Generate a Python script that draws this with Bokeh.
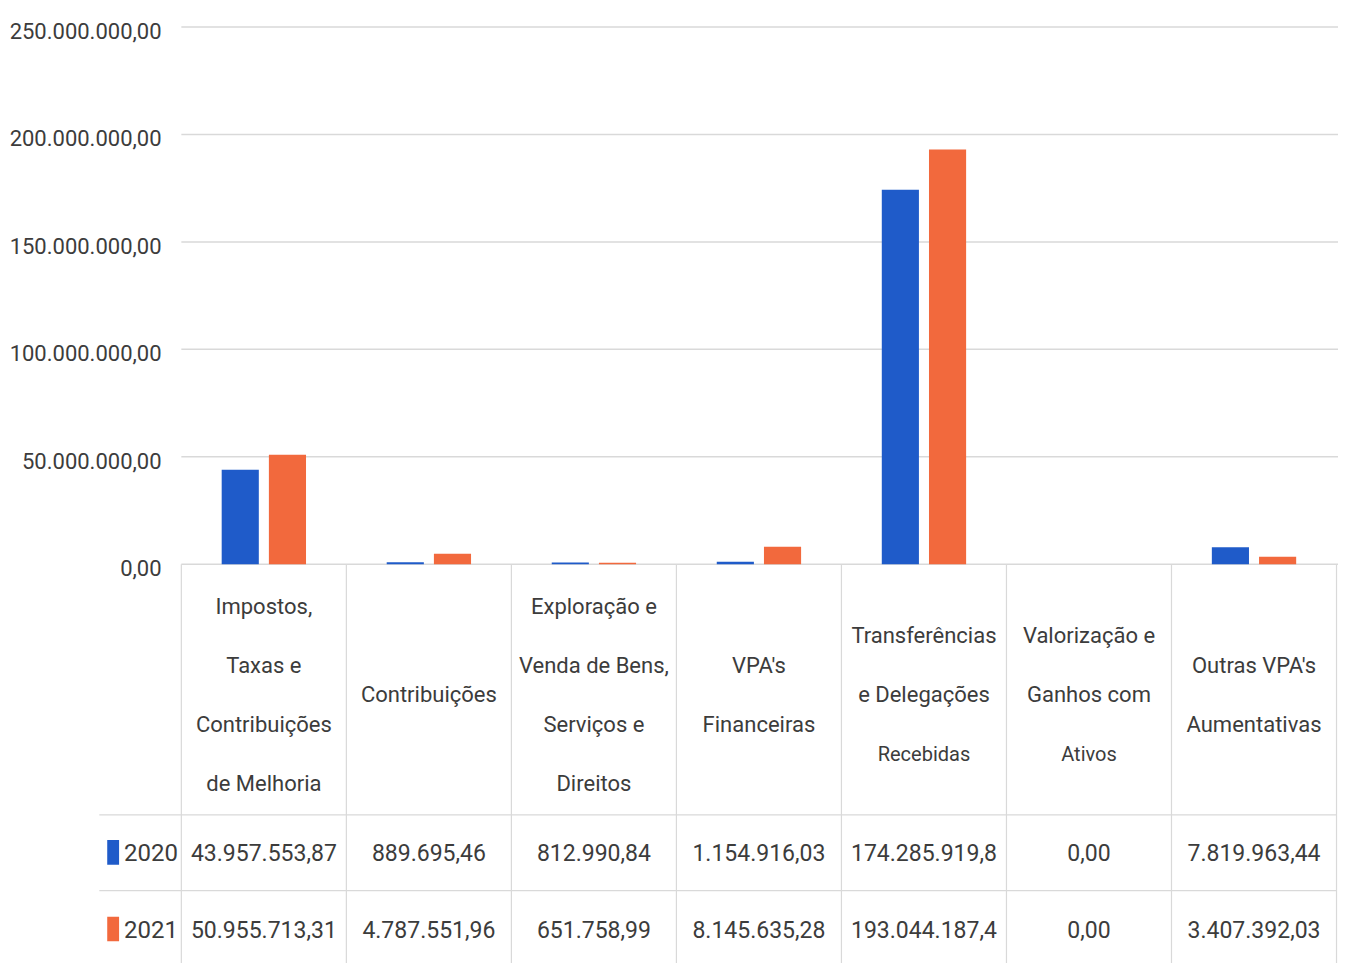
from bokeh.plotting import figure
from bokeh.models import Range1d, ColumnDataSource
from bokeh.core.properties import value
from bokeh.embed import file_html
from bokeh.resources import INLINE

# ---------------- data ----------------
categories = [
    ["Impostos,", "Taxas e", "Contribuições", "de Melhoria"],
    ["Contribuições"],
    ["Exploração e", "Venda de Bens,", "Serviços e", "Direitos"],
    ["VPA's", "Financeiras"],
    ["Transferências", "e Delegações", "Recebidas"],
    ["Valorização e", "Ganhos com", "Ativos"],
    ["Outras VPA's", "Aumentativas"],
]
series_names = ["2020", "2021"]
values_2020 = [43957553.87, 889695.46, 812990.84, 1154916.03, 174285919.8, 0.00, 7819963.44]
values_2021 = [50955713.31, 4787551.96, 651758.99, 8145635.28, 193044187.4, 0.00, 3407392.03]
labels_2020 = ["43.957.553,87", "889.695,46", "812.990,84", "1.154.916,03", "174.285.919,8", "0,00", "7.819.963,44"]
labels_2021 = ["50.955.713,31", "4.787.551,96", "651.758,99", "8.145.635,28", "193.044.187,4", "0,00", "3.407.392,03"]
y_ticks = [0, 50e6, 100e6, 150e6, 200e6, 250e6]
y_tick_labels = ["0,00", "50.000.000,00", "100.000.000,00", "150.000.000,00", "200.000.000,00", "250.000.000,00"]

colors = ["#1f5bc9", "#f2693d"]
TEXT = "#3c3c3c"
GRID = "#d9d9d9"
FONT = value("Roboto")

# ---------------- layout ----------------
W, H = 1338, 963
SX, SY = W / 1354, H / 979          # reference pixel -> figure pixel
n = len(categories)
left_px = 183 * SX
right_px = 1352 * SX
col_w = (right_px - left_px) / n
zero_px = 573 * SY
top_px = 27 * SY
unit = (zero_px - top_px) / 250e6   # px per value unit

def xv(rx):
    return (rx * SX - left_px) / col_w

def yv(ry):
    return (zero_px - ry * SY) / unit

p = figure(width=W, height=H, output_backend="svg", toolbar_location=None,
           x_range=Range1d(xv(0), xv(1354)), y_range=Range1d(yv(979), yv(0)),
           min_border=0, outline_line_color=None)
p.axis.visible = False
p.grid.visible = False
p.background_fill_color = "white"
p.border_fill_color = "white"

# gridlines
xe = xv(1354)
p.segment(x0=[0] * len(y_ticks), x1=[xe] * len(y_ticks), y0=y_ticks, y1=y_ticks,
          line_color=GRID, line_width=1.5)

# y tick labels
lx = xv(163)
p.text(x=[lx] * len(y_ticks), y=[t - 4 / unit for t in y_ticks], text=y_tick_labels,
       text_font=FONT, text_font_size="22px", text_color=TEXT,
       text_align="right", text_baseline="middle")

# bars
xs = list(range(n))
bw = 0.225
off = 0.143
for vals, c, d in [(values_2020, colors[0], -off), (values_2021, colors[1], off)]:
    p.vbar(x=[i + 0.5 + d for i in xs], top=vals, bottom=0, width=bw,
           fill_color=c, line_color=None)

# ---------------- data table ----------------
vx = list(range(n + 1))
p.segment(x0=vx, x1=vx, y0=[0] * len(vx), y1=[yv(979)] * len(vx),
          line_color=GRID, line_width=1.2)
ly = [yv(828), yv(905)]
p.segment(x0=[xv(100)] * 2, x1=[n] * 2, y0=ly, y1=ly, line_color=GRID, line_width=1.2)

# header text
hx, hy, ht, hs = [], [], [], []
center_ry = 706
spacing = 60
for i, lines in enumerate(categories):
    m = len(lines)
    for j, t in enumerate(lines):
        hx.append(i + 0.5)
        hy.append(yv(center_ry + (j - (m - 1) / 2) * spacing))
        ht.append(t)
        hs.append("20px" if (m == 3 and j == 2) else "22px")
src = ColumnDataSource(dict(x=hx, y=hy, text=ht, size=hs))
p.text(x="x", y="y", text="text", text_font_size="size", source=src,
       text_font=FONT, text_color=TEXT, text_align="center", text_baseline="middle")

# values rows
row_ry = [866, 944]
for k, labels in enumerate([labels_2020, labels_2021]):
    p.text(x=[i + 0.5 for i in xs], y=[yv(row_ry[k])] * n, text=labels,
           text_font=FONT, text_font_size="23px", text_color=TEXT,
           text_align="center", text_baseline="middle")
    p.rect(x=[xv(114)], y=[yv(row_ry[k])], width=12 * SX / col_w, height=25 * SY / unit,
           fill_color=colors[k], line_color=None)
    p.text(x=[xv(125)], y=[yv(row_ry[k])], text=[series_names[k]],
           text_font=FONT, text_font_size="24px", text_color=TEXT,
           text_align="left", text_baseline="middle")

open("out.html", "w").write(file_html(p, INLINE))
